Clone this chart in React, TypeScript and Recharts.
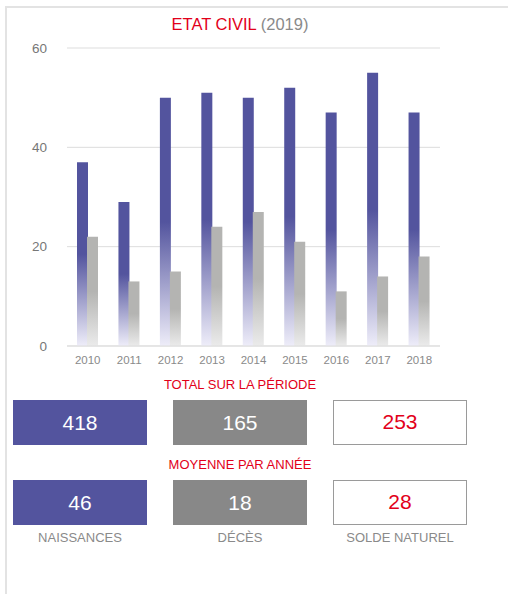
import { BarChart, Bar, XAxis, YAxis, CartesianGrid } from 'recharts'

const years = ['2010', '2011', '2012', '2013', '2014', '2015', '2016', '2017', '2018']
const naissances = [37, 29, 50, 51, 50, 52, 47, 55, 47]
const deces = [22, 13, 15, 24, 27, 21, 11, 14, 18]
const yTicks = [0, 20, 40, 60]

const BLUE = '#53549E'
const GREY_BOX = '#888888'
const RED = '#E2001A'
const FONT = '"Liberation Sans", Arial, Helvetica, sans-serif'

const data = years.map((year, i) => ({
  year,
  naissances: naissances[i],
  deces: deces[i],
}))

const sum = (arr: number[]) => arr.reduce((a, b) => a + b, 0)
const totalNaissances = sum(naissances)
const totalDeces = sum(deces)
const totalSolde = totalNaissances - totalDeces
const avg = (v: number) => Math.round(v / years.length)

function StatBox({ left, top, value, kind }: { left: number; top: number; value: number; kind: 'blue' | 'grey' | 'white' }) {
  const bg = kind === 'blue' ? BLUE : kind === 'grey' ? GREY_BOX : '#fff'
  return (
    <div
      style={{
        position: 'absolute',
        left,
        top,
        width: 134,
        height: 45,
        boxSizing: 'border-box',
        background: bg,
        border: kind === 'white' ? '1.5px solid #9a9a9a' : 'none',
        color: kind === 'white' ? RED : '#fff',
        fontSize: 21,
        lineHeight: kind === 'white' ? '42px' : '45px',
        textAlign: 'center',
      }}
    >
      {value}
    </div>
  )
}

function Heading({ top, text }: { top: number; text: string }) {
  return (
    <div
      style={{
        position: 'absolute',
        left: 0,
        width: 480,
        top,
        textAlign: 'center',
        color: RED,
        fontSize: 13,
        lineHeight: '16px',
      }}
    >
      {text}
    </div>
  )
}

export default function App() {
  const labels = ['NAISSANCES', 'DÉCÈS', 'SOLDE NATUREL']
  return (
    <div style={{ position: 'absolute', left: 0, top: 0, width: 508, height: 594, overflow: 'hidden', background: '#fff', fontFamily: FONT }}>
      <div
        style={{
          position: 'absolute',
          left: 5,
          top: 6,
          width: 520,
          height: 600,
          borderTop: '2px solid #e3e3e3',
          borderLeft: '2px solid #e3e3e3',
        }}
      />
      <div style={{ position: 'absolute', left: 0, width: 480, top: 14, textAlign: 'center', fontSize: 16.5, lineHeight: '20px' }}>
        <span style={{ color: RED }}>ETAT CIVIL</span>
        <span style={{ color: '#8a8a8a' }}> (2019)</span>
      </div>
      <div style={{ position: 'absolute', left: 0, top: 0 }}>
        <BarChart
          width={508}
          height={380}
          data={data}
          margin={{ top: 48, right: 68, left: 27, bottom: 4 }}
          barSize={11}
          barGap={-1}
        >
          <defs>
            <linearGradient id="gradBlue" x1="0" y1="0" x2="0" y2="1">
              <stop offset="0" stopColor={BLUE} />
              <stop offset="0.5" stopColor={BLUE} />
              <stop offset="1" stopColor="#EEEDF9" />
            </linearGradient>
            <linearGradient id="gradGrey" x1="0" y1="0" x2="0" y2="1">
              <stop offset="0" stopColor="#B4B4B2" />
              <stop offset="0.5" stopColor="#B4B4B2" />
              <stop offset="1" stopColor="#EBEBEB" />
            </linearGradient>
          </defs>
          <CartesianGrid vertical={false} stroke="#dddddd" />
          <XAxis
            dataKey="year"
            height={30}
            axisLine={{ stroke: '#dddddd' }}
            tickLine={false}
            tickMargin={4}
            tick={{ fill: '#8a8a8a', fontSize: 11.5, fontFamily: FONT }}
          />
          <YAxis
            width={40}
            domain={[0, 60]}
            ticks={yTicks}
            axisLine={false}
            tickLine={false}
            tickMargin={14}
            tick={{ fill: '#777777', fontSize: 13.5, fontFamily: FONT }}
          />
          <Bar dataKey="naissances" fill="url(#gradBlue)" isAnimationActive={false} />
          <Bar dataKey="deces" fill="url(#gradGrey)" isAnimationActive={false} />
        </BarChart>
      </div>

      <Heading top={377} text="TOTAL SUR LA PÉRIODE" />
      <StatBox left={13} top={400} value={totalNaissances} kind="blue" />
      <StatBox left={173} top={400} value={totalDeces} kind="grey" />
      <StatBox left={333} top={400} value={totalSolde} kind="white" />

      <Heading top={457} text="MOYENNE PAR ANNÉE" />
      <StatBox left={13} top={480} value={avg(totalNaissances)} kind="blue" />
      <StatBox left={173} top={480} value={avg(totalDeces)} kind="grey" />
      <StatBox left={333} top={480} value={avg(totalSolde)} kind="white" />

      {labels.map((label, i) => (
        <div
          key={label}
          style={{
            position: 'absolute',
            left: 13 + i * 160,
            width: 134,
            top: 530,
            textAlign: 'center',
            color: '#8a8a8a',
            fontSize: 13,
            lineHeight: '16px',
          }}
        >
          {label}
        </div>
      ))}
    </div>
  )
}
